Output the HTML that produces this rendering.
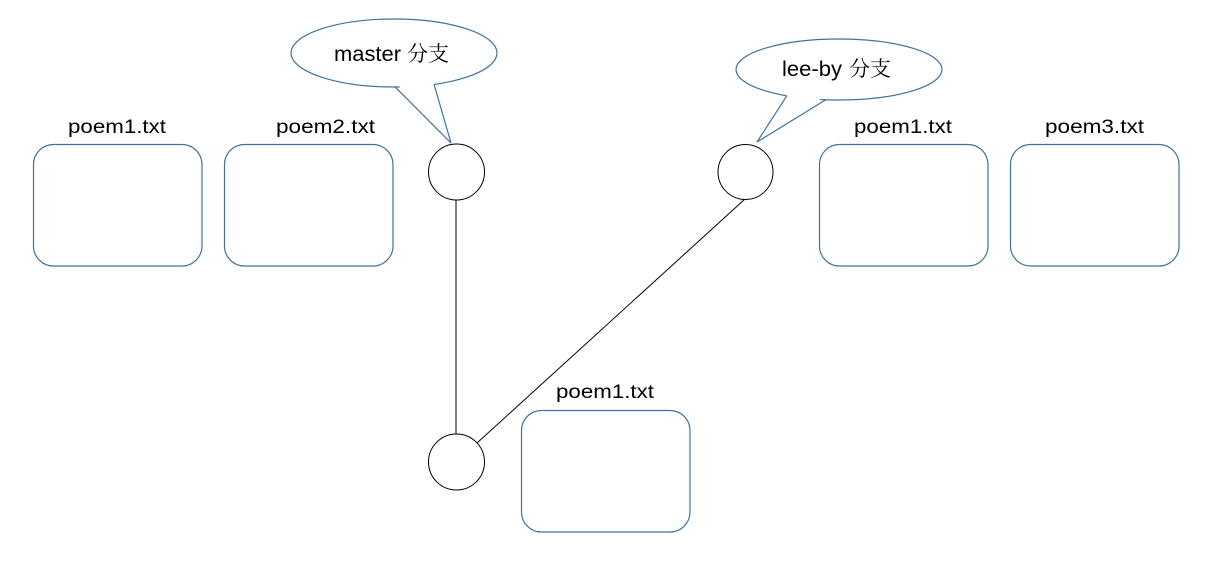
<!DOCTYPE html>
<html><head><meta charset="utf-8"><style>body{margin:0;background:#fff}svg{display:block}</style></head>
<body>
<svg width="1211" height="567" viewBox="0 0 1211 567" xmlns="http://www.w3.org/2000/svg" font-family="'Liberation Sans','Noto Sans CJK SC',sans-serif">
<g fill="#fff" stroke="#41719c" stroke-width="1.2">
<rect x="33.5" y="144.5" width="168.5" height="121.5" rx="20"/>
<rect x="224.5" y="144.5" width="168.5" height="121.5" rx="20"/>
<rect x="819.5" y="144.5" width="168.5" height="121.5" rx="20"/>
<rect x="1010.5" y="144.5" width="168.5" height="121.5" rx="20"/>
<rect x="521.5" y="410.5" width="168.5" height="121.5" rx="20"/>
<ellipse cx="394" cy="53" rx="103" ry="34"/>
<ellipse cx="839" cy="69.5" rx="103" ry="30.5"/>
</g>
<g fill="#fff" stroke="none">
<polygon points="396,83 451,143 433,80"/>
<polygon points="789,91 757,142 825,96"/>
</g>
<g fill="none" stroke="#41719c" stroke-width="1.2">
<polyline points="395,86.8 451,143 434,84.2"/>
<polyline points="787,95.6 757,142 826,99.6"/>
</g>
<g stroke="#000" stroke-width="1" fill="#fff">
<line x1="456" y1="200" x2="456" y2="434"/>
<line x1="477" y1="443" x2="745" y2="199"/>
<circle cx="456.5" cy="172" r="28"/>
<circle cx="745.5" cy="172" r="27.5"/>
<circle cx="456.5" cy="462" r="28"/>
</g>
<g font-size="19" fill="#000">
<text x="68" y="133" textLength="98" lengthAdjust="spacingAndGlyphs">poem1.txt</text>
<text x="276" y="133" textLength="99" lengthAdjust="spacingAndGlyphs">poem2.txt</text>
<text x="854" y="133" textLength="98" lengthAdjust="spacingAndGlyphs">poem1.txt</text>
<text x="1045" y="133" textLength="99" lengthAdjust="spacingAndGlyphs">poem3.txt</text>
<text x="556" y="398" textLength="98" lengthAdjust="spacingAndGlyphs">poem1.txt</text>
</g>
<g font-size="21" fill="#000">
<text x="334" y="61"><tspan textLength="67" lengthAdjust="spacingAndGlyphs">master</tspan><tspan x="407" font-family="'Noto Serif CJK SC',serif">分支</tspan></text>
<text x="782" y="76"><tspan textLength="60" lengthAdjust="spacingAndGlyphs">lee-by</tspan><tspan x="849" font-family="'Noto Serif CJK SC',serif">分支</tspan></text>
</g>
</svg>
</body></html>
